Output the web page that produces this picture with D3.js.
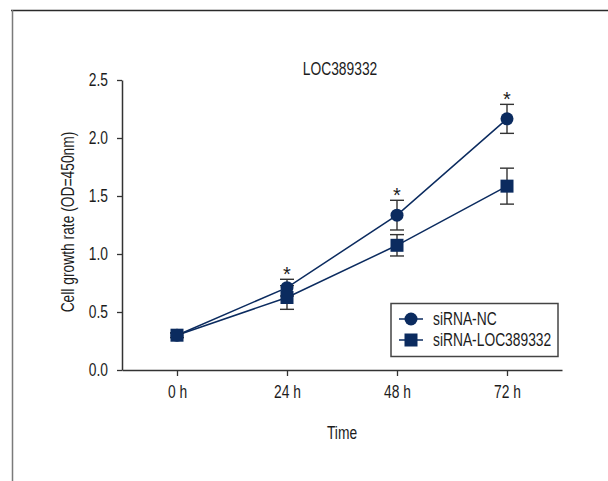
<!DOCTYPE html>
<html>
<head>
<meta charset="utf-8">
<script src="https://cdn.jsdelivr.net/npm/d3@7"></script>
<style>
  html, body { margin: 0; padding: 0; background: #fff; }
  svg { display: block; }
  text { font-family: "Liberation Sans", Arial, sans-serif; fill: #1c1c1c; }
</style>
</head>
<body>
<script>
// ---- data ----
const timeLabels = ["0 h", "24 h", "48 h", "72 h"];
const seriesNames = ["siRNA-NC", "siRNA-LOC389332"];
const ncValues = [0.30, 0.71, 1.335, 2.165];
const ncErrors = [0.02, 0.072, 0.128, 0.125];
const locValues = [0.30, 0.625, 1.075, 1.585];
const locErrors = [0.02, 0.102, 0.092, 0.155];
const significant = [false, true, true, true];
const yTicks = [0.0, 0.5, 1.0, 1.5, 2.0, 2.5];
const chartTitle = "LOC389332";
const xTitle = "Time";
const yTitle = "Cell growth rate (OD=450nm)";

const W = 608, H = 481;
const navy = "#0b2b5f";
const axisColor = "#333";
const SX = 0.79; // horizontal condensation to mimic a condensed face
const FS = 17.5;

const svg = d3.select("body").append("svg").attr("width", W).attr("height", H);

function label(parent, x0, y0, str, size, anchor, rotate) {
  const g = parent.append("g")
    .attr("transform", `translate(${x0},${y0})` + (rotate ? ` rotate(${rotate})` : "") + ` scale(${SX},1)`);
  return g.append("text").attr("x", 0).attr("y", 0).attr("font-size", size)
    .attr("text-anchor", anchor || "start").text(str);
}

// frame
svg.append("line").attr("x1", 11).attr("x2", W).attr("y1", 10.5).attr("y2", 10.5)
  .attr("stroke", "#2a2a2a").attr("stroke-width", 1.3);
svg.append("line").attr("x1", 12.5).attr("x2", 12.5).attr("y1", 10).attr("y2", H)
  .attr("stroke", "#7a7a7a").attr("stroke-width", 1.5);

const x = d3.scalePoint().domain(timeLabels).range([122, 562]).padding(0.5);
const y = d3.scaleLinear().domain([0, 2.5]).range([370, 80]);

// axes
const yAxis = svg.append("g").attr("transform", "translate(122,0)")
  .call(d3.axisLeft(y).tickValues(yTicks).tickFormat(d3.format(".1f")).tickSize(5).tickPadding(9).tickSizeOuter(0));
const xAxis = svg.append("g").attr("transform", "translate(0,370)")
  .call(d3.axisBottom(x).tickSize(6).tickPadding(10).tickSizeOuter(0));
[yAxis, xAxis].forEach(g => {
  g.select(".domain").attr("stroke", axisColor).attr("stroke-width", 1.5);
  g.selectAll(".tick line").attr("stroke", axisColor).attr("stroke-width", 1.3);
  g.selectAll(".tick text").each(function () {
    const t = d3.select(this);
    const tx = +t.attr("x") || 0;
    t.attr("x", 0).attr("transform", `translate(${tx},0) scale(${SX},1)`)
      .attr("font-size", FS).attr("fill", "#1c1c1c")
      .style("font-family", '"Liberation Sans", Arial, sans-serif');
  });
});

// titles
label(svg, 340, 75, chartTitle, FS, "middle");
label(svg, 342, 439, xTitle, FS, "middle");
label(svg, 74, 222, yTitle, FS, "middle", -90);

const series = [
  { name: seriesNames[0], values: ncValues, errors: ncErrors, shape: "circle" },
  { name: seriesNames[1], values: locValues, errors: locErrors, shape: "square" }
];

const line = d3.line().x((d, i) => x(timeLabels[i])).y(d => y(d));

// lines
series.forEach(s => {
  svg.append("path").datum(s.values).attr("d", line)
    .attr("fill", "none").attr("stroke", navy).attr("stroke-width", 1.5);
});

// error bars
const cap = 7;
series.forEach(s => {
  const g = svg.append("g");
  s.values.forEach((v, i) => {
    const cx = x(timeLabels[i]);
    const top = y(v + s.errors[i]), bot = y(v - s.errors[i]);
    g.append("line").attr("x1", cx).attr("x2", cx).attr("y1", top).attr("y2", bot)
      .attr("stroke", "#333").attr("stroke-width", 1.4);
    [top, bot].forEach(yy => g.append("line").attr("x1", cx - cap).attr("x2", cx + cap)
      .attr("y1", yy).attr("y2", yy).attr("stroke", "#333").attr("stroke-width", 1.4));
  });
});

function drawMarker(g, shape, cx, cy) {
  if (shape === "circle") {
    g.append("circle").attr("cx", cx).attr("cy", cy).attr("r", 6.5).attr("fill", navy);
  } else {
    g.append("rect").attr("x", cx - 6.5).attr("y", cy - 6.5).attr("width", 13).attr("height", 13).attr("fill", navy);
  }
}

// markers (squares drawn after circles)
series.forEach(s => {
  const g = svg.append("g");
  s.values.forEach((v, i) => drawMarker(g, s.shape, x(timeLabels[i]), y(v)));
});

// significance asterisks
significant.forEach((sig, i) => {
  if (!sig) return;
  const top = Math.min(y(ncValues[i] + ncErrors[i]), y(locValues[i] + locErrors[i]));
  svg.append("text").attr("x", x(timeLabels[i])).attr("y", top + 2)
    .attr("text-anchor", "middle").attr("font-size", 20).attr("fill", "#333").text("*");
});

// legend
const lg = svg.append("g");
lg.append("rect").attr("x", 391).attr("y", 303.5).attr("width", 167).attr("height", 53)
  .attr("fill", "#fff").attr("stroke", "#444").attr("stroke-width", 1.5);
series.forEach((s, i) => {
  const cy = 319 + i * 21;
  lg.append("line").attr("x1", 399).attr("x2", 423).attr("y1", cy).attr("y2", cy)
    .attr("stroke", navy).attr("stroke-width", 1.5);
  drawMarker(lg, s.shape, 411, cy);
  label(lg, 433, cy + 6, s.name, FS, "start");
});
</script>
</body>
</html>
